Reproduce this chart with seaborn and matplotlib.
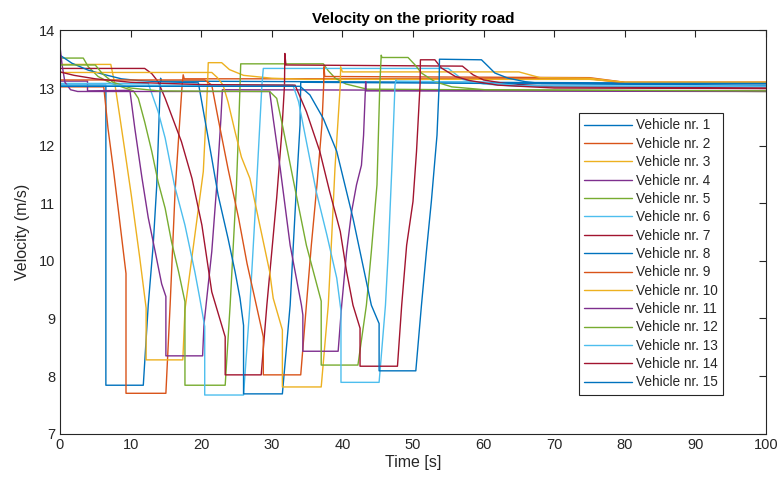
import matplotlib
matplotlib.use("Agg")
import matplotlib.pyplot as plt
import seaborn as sns
import pandas as pd

# ---- data (time in s, velocity in m/s) ----
t1 = [0, 6.5, 6.5, 11.8, 12.5, 13.2, 13.7, 14.2, 14.25, 14.4, 100]
v1 = [13.05, 13.05, 7.84, 7.84, 9.23, 10.27, 11.3, 13.05, 13.17, 13.12, 13.08]

t2 = [0, 6.2, 6.8, 7.6, 8.3, 9.35, 9.35, 15.0, 15.6, 16.3, 16.8, 17.3, 17.45, 17.6, 75, 80, 100]
v2 = [13.02, 13.02, 12.3, 11.55, 10.85, 9.78, 7.70, 7.70, 9.23, 11.2, 12.13, 13.05, 13.23, 13.16, 13.16, 13.09, 13.08]

t3 = [0, 7.2, 7.8, 8.5, 9.2, 10.1, 11.3, 12.2, 12.2, 17.4, 17.7, 20.3, 20.9, 21.0, 22.9, 24.0, 26.0, 30.0, 35.0, 75, 80, 100]
v3 = [13.41, 13.41, 13.05, 12.48, 11.9, 11.14, 10.05, 9.18, 8.28, 8.28, 9.15, 11.55, 13.05, 13.44, 13.44, 13.32, 13.22, 13.17, 13.15, 13.15, 13.1, 13.1]

t4 = [0, 3.9, 3.9, 9.9, 10.6, 11.6, 12.5, 13.5, 14.4, 15.0, 15.0, 20.2, 20.4, 21.5, 22.2, 22.8, 23.0, 100]
v4 = [13.12, 13.12, 12.95, 12.96, 12.3, 11.45, 10.75, 10.15, 9.6, 9.38, 8.35, 8.35, 8.9, 10.16, 11.3, 12.48, 12.97, 12.95]

t5 = [0, 3.3, 4.0, 5.4, 7.3, 9.7, 10.4, 11.1, 12.0, 13.0, 13.9, 14.9, 15.8, 16.8, 17.7, 17.7, 23.4, 24.1, 24.5, 25.0, 25.35, 25.6, 37.3, 38.0, 39.0, 40.5, 43.5, 100]
v5 = [13.52, 13.52, 13.37, 13.2, 13.08, 12.98, 12.95, 12.82, 12.41, 11.9, 11.37, 10.91, 10.33, 9.81, 9.29, 7.84, 7.84, 9.23, 10.16, 11.32, 12.47, 13.42, 13.42, 13.3, 13.17, 13.07, 12.98, 12.94]

t6 = [0, 12.5, 13.9, 14.9, 16.2, 17.7, 19.1, 19.8, 20.5, 20.5, 26.0, 26.9, 27.6, 28.6, 28.8, 55.0, 57.0, 60.0, 65.0, 100]
v6 = [13.08, 13.08, 12.59, 12.13, 11.32, 10.62, 9.81, 9.35, 8.86, 7.67, 7.67, 9.23, 10.74, 13.05, 13.34, 13.34, 13.15, 13.07, 13.03, 13.02]

t7 = [0, 12.0, 13.0, 13.9, 14.9, 17.2, 18.7, 20.1, 21.5, 23.4, 23.4, 28.5, 29.3, 30.0, 30.7, 31.4, 31.8, 31.85, 32.0, 57.0, 58.5, 60.0, 63.0, 70.0, 100]
v7 = [13.34, 13.34, 13.25, 13.11, 12.82, 12.07, 11.43, 10.62, 9.46, 8.68, 8.02, 8.02, 9.23, 10.16, 11.1, 12.2, 13.05, 13.60, 13.40, 13.38, 13.23, 13.14, 13.08, 13.02, 13.0]

t8 = [0, 1.7, 4.0, 6.4, 8.7, 11.1, 14.0, 19.6, 20.5, 21.5, 22.4, 23.8, 24.8, 25.5, 26.0, 26.0, 31.5, 32.6, 33.0, 33.5, 34.0, 34.1, 100]
v8 = [13.57, 13.43, 13.31, 13.23, 13.16, 13.13, 13.11, 13.09, 12.47, 11.78, 11.14, 10.39, 9.81, 9.35, 8.88, 7.69, 7.69, 9.23, 10.16, 11.3, 12.36, 13.10, 13.05]

t9 = [0, 20.5, 21.5, 22.4, 23.8, 25.3, 26.5, 27.5, 28.8, 28.8, 34.1, 34.9, 35.6, 36.4, 37.1, 37.35, 37.4, 37.5, 75, 80, 100]
v9 = [13.14, 13.14, 13.05, 12.47, 11.6, 10.74, 9.95, 9.4, 8.68, 8.02, 8.02, 9.23, 10.27, 11.32, 12.36, 13.05, 13.37, 13.2, 13.18, 13.1, 13.1]

t10 = [0, 21.5, 22.3, 23.1, 23.8, 24.8, 25.7, 26.9, 28.3, 29.7, 30.2, 31.5, 31.5, 37.0, 38.0, 38.5, 38.95, 39.4, 39.7, 39.75, 40.0, 65.0, 68.0, 75.0, 80.0, 100]
v10 = [13.27, 13.27, 13.18, 13.05, 12.76, 12.24, 11.8, 11.43, 10.62, 9.81, 9.35, 8.80, 7.81, 7.81, 9.23, 10.45, 11.61, 12.47, 13.05, 13.37, 13.28, 13.28, 13.18, 13.17, 13.1, 13.1]

t11 = [0, 0.3, 0.7, 1.5, 2.5, 29.7, 30.2, 31.2, 32.6, 34.2, 34.4, 34.4, 39.4, 39.9, 40.6, 41.3, 42.0, 42.7, 43.0, 43.3, 43.35, 100]
v11 = [13.72, 13.4, 13.1, 12.97, 12.94, 12.94, 12.47, 11.6, 10.27, 9.23, 9.06, 8.43, 8.43, 9.23, 10.16, 10.85, 11.32, 11.66, 12.18, 13.11, 12.95, 12.94]

t12 = [0, 5.0, 6.0, 7.5, 10.0, 14.0, 29.7, 30.7, 31.6, 33.0, 34.9, 37.0, 37.0, 42.2, 43.4, 44.1, 44.9, 45.3, 45.5, 45.6, 49.3, 50.3, 51.2, 53.1, 55.5, 60.2, 100]
v12 = [13.40, 13.40, 13.25, 13.1, 13.0, 12.95, 12.94, 12.82, 12.30, 11.43, 10.27, 9.3, 8.19, 8.19, 9.23, 10.16, 11.32, 13.05, 13.57, 13.53, 13.53, 13.40, 13.26, 13.11, 13.02, 12.97, 12.95]

t13 = [0, 33.0, 33.8, 34.9, 36.3, 37.8, 39.2, 39.8, 39.8, 45.2, 46.1, 46.5, 47.0, 47.45, 47.6, 47.7, 60, 65, 100]
v13 = [13.05, 13.05, 12.76, 12.07, 11.2, 10.45, 9.70, 9.13, 7.89, 7.89, 9.23, 10.16, 11.6, 13.05, 13.14, 13.12, 13.1, 13.04, 13.03]

t14 = [0, 2, 5, 10, 20, 33.3, 34.9, 36.8, 38.2, 39.7, 40.6, 41.5, 42.5, 42.5, 47.8, 48.4, 49.1, 50.0, 50.5, 51.0, 51.05, 53.1, 54.0, 56.0, 58.0, 62.0, 70.0, 100]
v14 = [13.28, 13.22, 13.16, 13.1, 13.06, 13.05, 12.59, 11.9, 11.2, 10.51, 9.81, 9.23, 8.83, 8.17, 8.17, 9.23, 10.27, 11.03, 11.9, 13.05, 13.49, 13.49, 13.35, 13.2, 13.13, 13.05, 13.0, 12.99]

t15 = [0, 34.0, 35.4, 37.3, 39.2, 41.5, 44.1, 45.2, 45.2, 50.4, 51.2, 51.9, 52.6, 53.4, 53.7, 53.75, 59.7, 60.7, 61.6, 63.5, 65.9, 68.2, 100]
v15 = [13.03, 13.03, 12.88, 12.47, 11.9, 10.74, 9.23, 8.91, 8.09, 8.09, 9.23, 10.16, 11.03, 12.18, 13.05, 13.50, 13.49, 13.37, 13.26, 13.17, 13.11, 13.08, 13.08]

times = [t1, t2, t3, t4, t5, t6, t7, t8, t9, t10, t11, t12, t13, t14, t15]
vels = [v1, v2, v3, v4, v5, v6, v7, v8, v9, v10, v11, v12, v13, v14, v15]
labels = [f"Vehicle nr. {i}" for i in range(1, 16)]

x_ticks = list(range(0, 101, 10))
y_ticks = list(range(7, 15))

# ---- build long-form table ----
rows = []
for lab, ts, vs in zip(labels, times, vels):
    for k, (t, v) in enumerate(zip(ts, vs)):
        rows.append({"Vehicle": lab, "order": k, "t": t, "v": v})
df = pd.DataFrame(rows)

matlab = ["#0072BD", "#D95319", "#EDB120", "#7E2F8E", "#77AC30", "#4DBEEE", "#A2142F"]
palette = {lab: matlab[i % 7] for i, lab in enumerate(labels)}

sns.set_style("white")
plt.rcParams["font.family"] = ["Liberation Sans", "DejaVu Sans"]

fig = plt.figure(figsize=(7.81, 4.86), dpi=100)
ax = fig.add_axes([0.0768, 0.1078, 0.904, 0.8296])

sns.lineplot(data=df, x="t", y="v", hue="Vehicle", hue_order=labels, palette=palette,
             estimator=None, sort=False, linewidth=1.0, ax=ax, legend=True)

ax.set_xlim(0, 100)
ax.set_ylim(7, 14)
ax.set_xticks(x_ticks)
ax.set_yticks(y_ticks)
ax.tick_params(direction="in", top=True, right=True, length=5, width=0.8,
               labelsize=10.5, colors="#262626")
for s in ax.spines.values():
    s.set_visible(True)
    s.set_color("#262626")
    s.set_linewidth(0.8)

ax.set_title("Velocity on the priority road", fontsize=11, fontweight="bold", color="black", pad=5)
ax.set_xlabel("Time [s]", fontsize=11.5, color="#262626", labelpad=2)
ax.set_ylabel("Velocity (m/s)", fontsize=11.5, color="#262626", labelpad=6)

handles, labs = ax.get_legend_handles_labels()
leg = ax.legend(handles, labs, loc="upper left", bbox_to_anchor=(0.7414, 0.7675),
                bbox_transform=fig.transFigure, borderaxespad=0, fontsize=9.8,
                labelspacing=0.32, handlelength=3.5, handletextpad=0.25,
                borderpad=0.4, frameon=True, fancybox=False, framealpha=1)
leg.get_frame().set_edgecolor("#262626")
leg.get_frame().set_linewidth(0.8)
for line in leg.get_lines():
    line.set_linewidth(1.0)

fig.savefig("out.png", dpi=100, facecolor="white")
